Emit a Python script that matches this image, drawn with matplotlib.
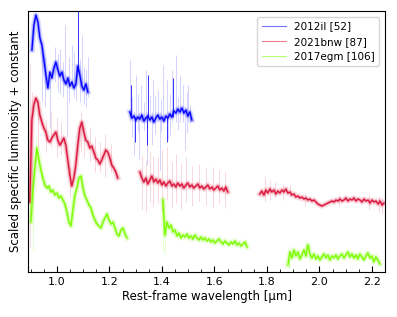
import numpy as np
import matplotlib
matplotlib.use("Agg")
import matplotlib.pyplot as plt
from matplotlib.lines import Line2D

# --- Spectra (rest-frame wavelength ranges in micron, scaled flux + offset) ---
names = ["2012il [52]", "2021bnw [87]", "2017egm [106]"]
colors = ["#0000ff", "#dc143c", "#7cfc00"]

# 2012il
blue_ranges = [(0.905, 1.118), (1.278, 1.514)]
blue_flux = [
    [22.2, 24.7, 25.7, 25.0, 23.4, 22.7, 21.2, 19.7, 18.4, 20.0, 19.4, 20.4,
     21.0, 20.2, 19.6, 20.0, 19.2, 18.8, 19.4, 18.6, 19.0, 18.4, 18.8, 20.6,
     19.7, 18.6, 18.2, 18.8, 18.0],
    [16.0, 15.4, 15.6, 15.2, 15.5, 15.3, 15.7, 15.1, 15.4, 15.6, 15.2, 15.5,
     15.0, 15.4, 15.7, 15.3, 15.5, 15.1, 15.6, 15.4, 15.8, 15.5, 16.1, 15.9,
     16.3, 16.0, 16.4, 15.9, 16.2, 15.6, 16.0, 15.2],
]
# noisy raw pixels: wavelength, low, high
blue_spike_wl = [0.973, 1.038, 1.057, 1.030, 1.095, 1.118, 1.278, 1.301, 1.320,
                 1.339, 1.354, 1.366, 1.385, 1.404, 1.419, 1.438, 1.453, 1.468,
                 1.480, 1.499, 1.507, 1.293, 1.312, 1.343, 1.362, 1.392, 1.423,
                 1.488, 0.992, 0.945, 0.953, 1.003, 1.011, 1.022, 1.046, 1.065,
                 1.072, 1.088, 1.103, 1.110, 1.286, 1.309, 1.330, 1.373, 1.396,
                 1.430, 1.461, 1.495]
blue_spike_lo = [14.4, 13.5, 18.5, 19.0, 18.0, 17.5, 15.0, 15.0, 15.0, 15.0,
                 15.0, 15.0, 15.0, 15.0, 15.0, 15.0, 15.0, 15.0, 15.0, 15.0,
                 15.0, 11.7, 11.2, 10.7, 12.7, 10.2, 13.2, 12.2, 19.0, 17.0,
                 16.5, 18.0, 17.8, 17.5, 17.0, 17.5, 17.2, 17.0, 16.8, 16.5,
                 13.5, 14.0, 14.2, 13.8, 14.0, 13.6, 14.2, 13.9]
blue_spike_hi = [19.5, 19.5, 22.7, 24.7, 23.7, 21.5, 21.2, 19.7, 18.7, 20.2,
                 17.7, 19.2, 18.2, 20.7, 19.2, 20.2, 21.7, 19.7, 18.7, 18.7,
                 16.7, 16.0, 16.0, 16.0, 16.0, 16.0, 16.0, 16.0, 22.5, 22.0,
                 21.5, 21.8, 22.3, 21.0, 21.5, 22.0, 20.8, 21.3, 20.5, 20.2,
                 17.5, 17.8, 17.0, 17.6, 17.3, 17.8, 17.5, 18.0]
blue_strong_wl = [1.080, 1.282, 1.297, 1.343, 1.347, 1.419, 1.442]
blue_strong_lo = [20.0, 15.5, 13.0, 12.7, 15.5, 13.0, 15.5]
blue_strong_hi = [26.5, 18.7, 15.5, 15.5, 19.7, 15.5, 19.4]

# 2021bnw
red_ranges = [(0.897, 1.232), (1.316, 1.651), (1.773, 2.246)]
red_flux = [
    [7.0, 15.2, 16.7, 17.4, 17.0, 15.7, 15.0, 14.4, 14.0, 13.2, 13.0, 13.4,
     13.7, 14.0, 13.2, 12.7, 13.0, 13.4, 12.7, 11.2, 9.7, 8.6, 9.4, 10.7,
     12.7, 14.4, 15.0, 14.0, 13.2, 13.0, 12.4, 12.6, 12.0, 11.4, 11.2, 10.8,
     11.2, 11.7, 12.2, 12.0, 11.4, 10.7, 10.4, 10.0, 9.4],
    [10.0, 9.4, 9.0, 9.4, 8.8, 9.2, 9.6, 9.0, 9.3, 8.9, 9.2, 8.7, 9.0, 8.6,
     8.9, 9.1, 8.6, 8.8, 8.5, 8.9, 8.6, 8.8, 8.4, 8.7, 8.9, 8.5, 8.7, 8.4,
     8.6, 8.8, 8.4, 8.6, 8.3, 8.5, 8.7, 8.3, 8.5, 8.2, 8.4, 8.6, 8.2, 8.4,
     8.1, 8.5, 8.0],
    [7.8, 8.1, 7.7, 8.2, 7.9, 8.3, 8.0, 8.2, 7.8, 8.1, 7.9, 8.2, 8.0, 8.3,
     7.9, 8.0, 7.7, 7.8, 7.5, 7.6, 7.4, 7.5, 7.3, 7.4, 7.2, 7.3, 7.1, 7.2,
     7.0, 6.8, 6.7, 6.6, 6.7, 6.8, 6.9, 7.0, 7.1, 7.0, 7.2, 7.1, 7.3, 7.1,
     7.2, 7.4, 7.1, 7.3, 7.2, 7.4, 7.1, 7.3, 7.2, 7.0, 7.3, 7.1, 7.2, 6.9,
     7.2, 7.0, 7.1, 6.8, 7.1, 6.7, 6.9],
]
red_spike_wl = [0.897, 0.905, 0.960, 0.979, 1.126, 1.164, 1.324, 1.339, 1.354,
                1.366, 1.385, 1.400, 1.419, 1.438, 1.453, 1.472, 1.491, 1.514,
                1.541, 1.568, 1.594, 1.617, 1.640, 1.792, 1.811, 1.830, 1.861,
                1.888, 1.945, 2.074, 2.189, 2.227, 2.238, 0.930, 1.000, 1.015,
                1.050, 1.090, 1.105, 1.145, 1.185, 1.205]
red_spike_lo = [2.5, 8.0, 12.0, 12.5, 11.0, 10.0, 6.2, 6.0, 7.0, 6.5, 6.8, 6.0,
                7.2, 6.4, 6.9, 6.3, 7.0, 6.6, 7.1, 6.7, 6.5, 6.9, 6.4, 7.0, 7.3,
                7.4, 7.2, 7.5, 6.6, 6.6, 6.2, 6.0, 5.8, 12.5, 11.5, 11.8, 7.5,
                12.0, 11.5, 10.0, 9.5, 10.0]
red_spike_hi = [20.9, 18.0, 15.2, 16.0, 14.5, 13.0, 11.7, 11.2, 12.0, 11.6,
                11.4, 12.2, 12.5, 11.0, 11.8, 10.9, 11.5, 10.6, 10.8, 10.4,
                10.5, 10.2, 10.0, 9.6, 9.3, 9.0, 8.8, 8.7, 7.9, 7.8, 7.8, 7.6,
                7.5, 17.0, 15.5, 15.0, 10.5, 16.0, 14.5, 13.5, 13.8, 12.8]

# 2017egm
green_ranges = [(0.901, 1.267), (1.404, 1.724), (1.880, 2.230)]
green_flux = [
    [5.0, 8.2, 10.4, 12.4, 11.2, 10.2, 9.4, 8.7, 8.4, 8.6, 8.0, 8.2, 7.7, 7.9,
     7.4, 7.6, 7.2, 6.8, 6.0, 5.0, 4.6, 6.2, 7.7, 8.4, 9.4, 9.6, 8.4, 7.6,
     7.2, 6.7, 6.4, 5.7, 5.2, 4.8, 4.6, 4.4, 5.0, 5.4, 5.8, 5.2, 4.8, 5.0,
     4.4, 3.8, 3.6, 4.2, 4.4, 3.8, 3.4],
    [7.2, 3.7, 5.0, 4.4, 4.7, 4.0, 4.2, 3.6, 3.9, 3.4, 3.7, 3.5, 3.8, 3.4, 3.6,
     3.3, 3.7, 3.4, 3.2, 3.5, 3.2, 3.4, 3.1, 3.3, 3.0, 3.2, 2.9, 3.1, 3.3, 3.0,
     2.8, 3.1, 2.9, 2.7, 3.0, 2.8, 3.1, 2.7, 2.9, 2.6, 2.8, 3.0, 2.5],
    [0.7, 2.0, 1.4, 2.2, 1.6, 2.0, 1.3, 1.7, 2.2, 1.6, 2.7, 1.8, 1.4, 1.8, 1.3,
     1.6, 1.2, 1.5, 1.8, 1.4, 1.7, 1.2, 1.6, 1.4, 1.7, 1.3, 1.6, 1.8, 1.4, 1.7,
     2.0, 1.5, 1.8, 1.4, 1.7, 1.3, 1.8, 1.5, 1.2, 1.6, 1.9, 1.4, 1.6, 1.0, 1.5,
     1.2, 0.8],
]
green_spike_wl = [0.909, 0.920, 1.404, 1.411, 1.884, 1.949, 1.960]
green_spike_lo = [2.0, 11.0, 2.0, 1.7, 0.3, 1.5, 1.0]
green_spike_hi = [9.0, 13.5, 7.5, 4.5, 2.5, 3.2, 2.8]

all_ranges = [blue_ranges, red_ranges, green_ranges]
all_flux = [blue_flux, red_flux, green_flux]
all_spikes = [(blue_spike_wl, blue_spike_lo, blue_spike_hi),
              (red_spike_wl, red_spike_lo, red_spike_hi),
              (green_spike_wl, green_spike_lo, green_spike_hi)]

fig = plt.figure(figsize=(3.97, 3.17), dpi=100)
ax = fig.add_axes([0.0705, 0.142, 0.8995, 0.823])

for ranges, fluxes, spikes, c in zip(all_ranges, all_flux, all_spikes, colors):
    for (w0, w1), f in zip(ranges, fluxes):
        wl = np.linspace(w0, w1, len(f))
        ax.plot(wl, f, color=c, lw=4.0, alpha=0.15)
        ax.plot(wl, f, color=c, lw=2.0, alpha=0.35)
        ax.plot(wl, f, color=c, lw=0.9)
    ax.vlines(spikes[0], spikes[1], spikes[2], color=c, lw=0.6, alpha=0.2)

ax.vlines(blue_strong_wl, blue_strong_lo, blue_strong_hi, color=colors[0],
          lw=0.7, alpha=0.8)

handles = [Line2D([], [], color=c, lw=0.8, alpha=0.55) for c in colors]
ax.legend(handles, names, loc="upper right", fontsize=7.5, handlelength=2.3,
          borderaxespad=0.6)

ax.set_xlim(0.89, 2.25)
ax.set_ylim(0, 26.1)
ax.set_xticks([1.0, 1.2, 1.4, 1.6, 1.8, 2.0, 2.2])
ax.set_xticks(np.arange(0.9, 2.26, 0.05), minor=True)
ax.set_yticks([])
ax.tick_params(axis="x", which="both", direction="in", labelsize=8)
ax.tick_params(axis="x", which="major", length=4)
ax.tick_params(axis="x", which="minor", length=2.5)
ax.set_xlabel("Rest-frame wavelength [µm]", fontsize=8.5, labelpad=2)
ax.set_ylabel("Scaled specific luminosity + constant", fontsize=8.5, labelpad=4)

fig.savefig("out.png", dpi=100)
